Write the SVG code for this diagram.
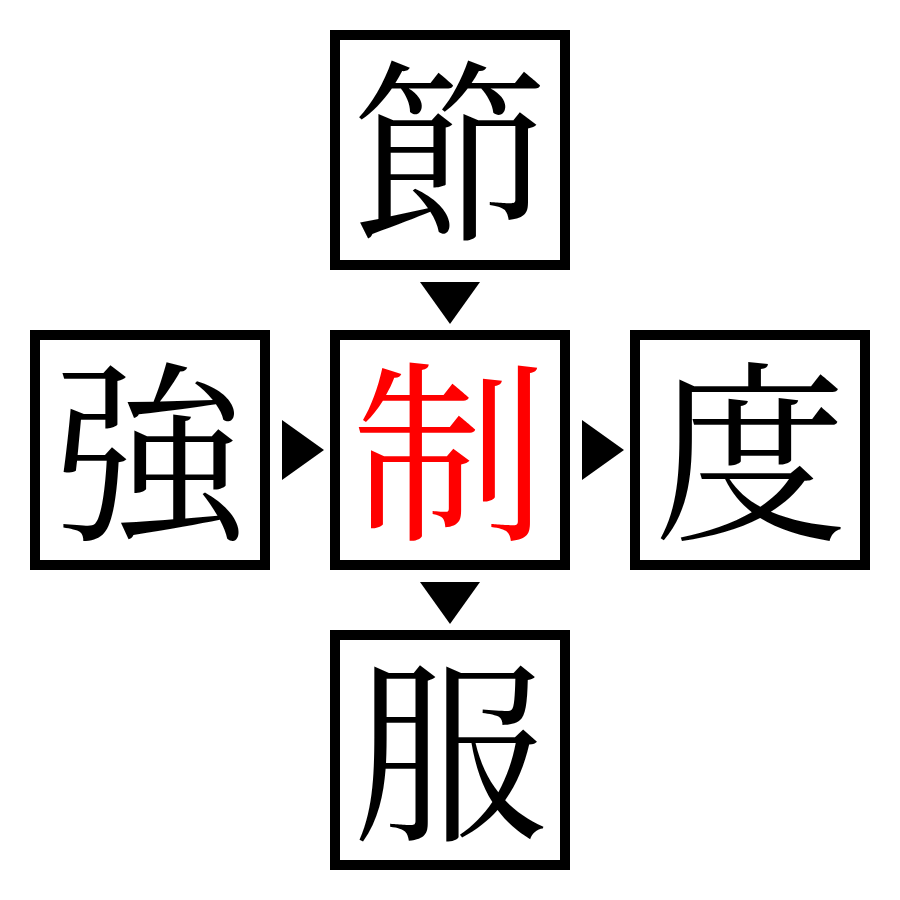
<svg xmlns="http://www.w3.org/2000/svg" width="900" height="900" viewBox="0 0 900 900">
<style>
.box{fill:#fff;stroke:#000;stroke-width:10}
.k{font-family:"Noto Serif CJK JP","Noto Sans CJK JP",serif;font-size:195px;text-anchor:middle;fill:#000}
.red{fill:#ff0000}
.arr{fill:#000}
</style>
<rect width="900" height="900" fill="#fff"/>
<g id="node-top"><rect class="box" x="335" y="35" width="230" height="230"/><text class="k" x="450" y="225">節</text></g>
<g id="node-left"><rect class="box" x="35" y="335" width="230" height="230"/><text class="k" x="150" y="526">強</text></g>
<g id="node-center"><rect class="box" x="335" y="335" width="230" height="230"/><text class="k red" x="450" y="526">制</text></g>
<g id="node-right"><rect class="box" x="635" y="335" width="230" height="230"/><text class="k" x="750" y="526">度</text></g>
<g id="node-bottom"><rect class="box" x="335" y="635" width="230" height="230"/><text class="k" x="450" y="826">服</text></g>
<g id="connectors">
<polygon class="arr" points="420,282 480,282 450,324"/>
<polygon class="arr" points="282,420 282,480 324,450"/>
<polygon class="arr" points="582,420 582,480 624,450"/>
<polygon class="arr" points="420,582 480,582 450,624"/>
</g>
</svg>
